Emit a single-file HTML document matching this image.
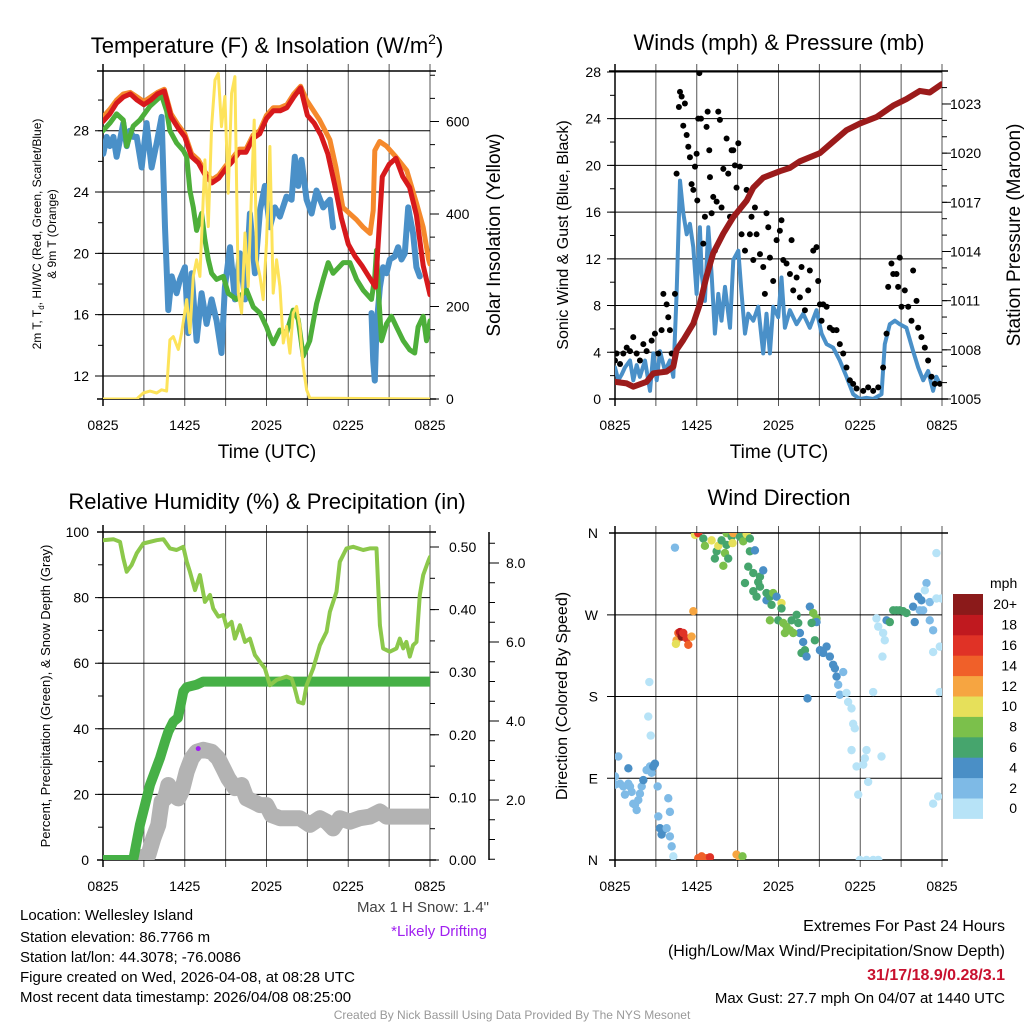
<!DOCTYPE html>
<html><head><meta charset="utf-8"><style>
html,body{margin:0;padding:0;background:#fff;}
svg{display:block;font-family:"Liberation Sans",Arial,sans-serif;}
</style></head><body>
<svg id="s" width="1024" height="1024" viewBox="0 0 1024 1024" xmlns="http://www.w3.org/2000/svg">
<rect x="0" y="0" width="1024" height="1024" fill="#fff"/>
<g id="texts">
<text x="267" y="53" font-size="22" text-anchor="middle">Temperature (F) &amp; Insolation (W/m<tspan font-size="14" dy="-9">2</tspan><tspan dy="9">)</tspan></text>
<text x="779" y="50" font-size="22" text-anchor="middle">Winds (mph) &amp; Pressure (mb)</text>
<text x="267" y="509" font-size="22" text-anchor="middle">Relative Humidity (%) &amp; Precipitation (in)</text>
<text x="779" y="505" font-size="22" text-anchor="middle">Wind Direction</text>
<text transform="translate(41,234) rotate(-90)" font-size="12" text-anchor="middle">2m T, T<tspan font-size="8" dy="3">d</tspan><tspan dy="-3">, HI/WC (Red, Green, Scarlet/Blue)</tspan></text>
<text transform="translate(56,234) rotate(-90)" font-size="12" text-anchor="middle">&amp; 9m T (Orange)</text>
<text transform="translate(500,235) rotate(-90)" font-size="19" text-anchor="middle">Solar Insolation (Yellow)</text>
<text x="267" y="458" font-size="19" text-anchor="middle">Time (UTC)</text>
<text x="779" y="458" font-size="19" text-anchor="middle">Time (UTC)</text>
<text transform="translate(568,235) rotate(-90)" font-size="16" text-anchor="middle">Sonic Wind &amp; Gust (Blue, Black)</text>
<text transform="translate(1020,235) rotate(-90)" font-size="19" text-anchor="middle">Station Pressure (Maroon)</text>
<text transform="translate(50,696) rotate(-90)" font-size="13" text-anchor="middle">Percent, Precipitation (Green), &amp; Snow Depth (Gray)</text>
<text transform="translate(567,696) rotate(-90)" font-size="16" text-anchor="middle">Direction (Colored By Speed)</text>
<text x="489" y="912" font-size="15" fill="#444" text-anchor="end">Max 1 H Snow: 1.4"</text>
<text x="487" y="936" font-size="15" fill="#a020f0" text-anchor="end">*Likely Drifting</text>
<text x="20" y="920" font-size="15">Location: Wellesley Island</text>
<text x="20" y="942" font-size="15">Station elevation: 86.7766 m</text>
<text x="20" y="962" font-size="15">Station lat/lon: 44.3078; -76.0086</text>
<text x="20" y="982" font-size="15">Figure created on Wed, 2026-04-08, at 08:28 UTC</text>
<text x="20" y="1002" font-size="15">Most recent data timestamp: 2026/04/08 08:25:00</text>
<text x="1005" y="931" font-size="16" text-anchor="end">Extremes For Past 24 Hours</text>
<text x="1005" y="956" font-size="16" text-anchor="end">(High/Low/Max Wind/Precipitation/Snow Depth)</text>
<text x="1005" y="980" font-size="16" font-weight="bold" fill="#c8102e" text-anchor="end">31/17/18.9/0.28/3.1</text>
<text x="1005" y="1003" font-size="15" text-anchor="end">Max Gust: 27.7 mph On 04/07 at 1440 UTC</text>
<text x="512" y="1019" font-size="12" fill="#999" text-anchor="middle">Created By Nick Bassill Using Data Provided By The NYS Mesonet</text>
</g>
</svg>
<script>
// ---------- data ----------
const timeLabels = ["0825","1425","2025","0225","0825"];
const tempTicks = [12,16,20,24,28];
const solarTicks = [0,200,400,600];
const windTicks = [0,4,8,12,16,20,24,28];
const presTicks = [1005,1008,1011,1014,1017,1020,1023];
const rhTicks = [0,20,40,60,80,100];
const precipTicks = [0,0.1,0.2,0.3,0.4,0.5];
const snowTicks = [2,4,6,8];
const dirLabels = ["N","E","S","W","N"];
const dirTicks = [0,90,180,270,360];
const speedLabels = ["0","2","4","6","8","10","12","14","16","18","20+"];
const speedColors = ["#b7e3f7","#7ebae6","#4a8fc6","#46a56d","#7bc04b","#e6e05a","#f6a541","#f06029","#e03226","#c0191f","#8b1a1a"];

const redT = [[0,28.6],[0.5,29.1],[1,29.8],[1.5,30.2],[2,30.4],[2.5,30.0],[3,29.7],[3.5,30.0],[4,30.4],[4.5,30.6],[5,28.9],[5.5,28.2],[6,27.6],[6.5,26.3],[7,25.9],[7.5,25.1],[8,24.6],[8.5,24.9],[9,25.5],[9.5,26.0],[10,26.6],[10.5,26.6],[11,27.5],[11.5,27.8],[12,28.8],[12.5,29.3],[13,29.3],[13.5,29.5],[14,30.2],[14.5,30.8],[15,29.0],[15.5,28.5],[16,27.7],[16.5,26.5],[17,24.5],[17.5,22.3],[18,20.6],[18.5,19.8],[19,19.2],[19.5,18.5],[20,17.8],[20.5,25.0],[21,25.8],[21.5,26.2],[22,25.0],[22.5,24.3],[23,22.5],[23.5,19.2],[24,17.3]];
const orangeT = [[0,28.9],[0.5,29.4],[1,30.0],[1.5,30.4],[2,30.5],[2.5,30.2],[3,29.9],[3.5,30.2],[4,30.5],[4.5,30.7],[5,29.1],[5.5,28.4],[6,27.8],[6.5,26.5],[7,26.1],[7.5,25.3],[8,24.8],[8.5,25.1],[9,25.7],[9.5,26.2],[10,26.8],[10.5,26.8],[11,27.7],[11.5,28.0],[12,29.0],[12.5,29.5],[13,29.5],[13.5,29.7],[14,30.4],[14.5,30.9],[14.94,30.0],[15.9,28.7],[16.65,27.4],[17.1,25.6],[17.6,23.0],[18.1,22.6],[18.6,22.2],[19.1,21.7],[19.6,21.3],[19.83,22.8],[19.95,26.7],[20.3,27.3],[20.8,27.0],[21.5,26.3],[22.3,25.4],[23.0,23.3],[23.5,21.7],[23.9,19.6],[24,19.3]];
const greenT = [[0,28.0],[0.51,28.5],[1.0,29.1],[1.49,28.7],[1.74,27.0],[2.22,28.3],[2.71,28.7],[3.45,29.6],[4.3,30.3],[4.67,29.3],[4.91,28.0],[5.4,27.2],[5.89,26.7],[6.14,26.3],[6.38,24.1],[6.63,23.0],[6.87,21.5],[7.24,22.6],[7.48,20.9],[7.73,19.6],[7.97,18.7],[8.34,18.3],[8.83,18.5],[9.19,17.4],[9.8,17.0],[10.54,17.6],[11.03,16.5],[11.52,16.1],[12.0,15.2],[12.25,14.6],[12.49,14.1],[12.98,15.0],[13.47,14.8],[13.96,16.3],[14.33,15.7],[14.69,13.3],[15.18,14.3],[15.67,16.7],[16.16,18.3],[16.53,19.4],[16.89,18.7],[17.63,19.4],[18.12,19.4],[18.61,18.3],[19.1,17.6],[19.71,17.0],[19.95,18.5],[20.07,20.2],[20.2,17.8],[20.44,14.3],[20.81,15.4],[21.17,15.9],[21.54,15.2],[22.03,14.3],[22.52,13.7],[22.88,13.5],[23.13,15.2],[23.5,15.9],[23.74,14.3],[24,15.6]];
const blueTa = [[0.02,26.5],[0.27,27.6],[0.51,27.0],[0.76,27.6],[1.0,26.3],[1.25,27.4],[1.49,28.5],[1.74,27.0],[1.98,28.0],[2.22,27.6],[2.47,27.6],[2.84,25.6],[3.2,28.5],[3.57,25.6],[3.94,27.2],[4.3,28.9],[4.55,21.7],[4.79,16.3],[5.04,18.5],[5.4,17.4],[5.65,18.3],[6.01,19.1],[6.26,14.8],[6.5,18.7],[6.87,14.3],[7.24,17.4],[7.6,15.4],[7.97,17.0],[8.34,15.6],[8.7,13.5],[8.95,17.8],[9.32,20.4],[9.68,17.0],[10.05,20.0],[10.42,17.0],[10.78,22.6],[11.15,18.7],[11.52,22.8],[11.88,24.4],[12.25,21.7],[12.62,23.0],[12.98,22.4],[13.47,23.7],[13.84,23.5],[14.08,26.3],[14.33,24.4],[14.57,26.1],[14.94,23.5],[15.31,22.6],[15.67,24.1],[16.16,23.0],[16.65,23.5],[16.89,21.7]];
const blueTb = [[19.71,16.1],[19.83,13.0],[19.95,11.7],[20.07,15.2],[20.32,17.8],[20.56,19.1],[20.81,18.7],[21.05,19.6],[21.42,19.8],[21.66,20.4],[21.91,19.6],[22.15,20.0],[22.4,23.0],[22.52,22.4],[22.76,21.3],[23.0,19.1],[23.25,18.5]];
const solar = [[0,0],[2.47,0],[2.96,13],[3.45,17],[3.94,13],[4.3,20],[4.67,17],[4.91,128],[5.16,135],[5.53,107],[5.77,143],[6.14,215],[6.38,143],[6.63,265],[6.87,301],[7.11,265],[7.48,517],[7.73,373],[7.97,589],[8.22,690],[8.46,704],[8.7,589],[8.95,654],[9.19,445],[9.44,661],[9.68,697],[9.93,229],[10.17,186],[10.42,359],[10.66,243],[10.9,445],[11.1,603],[11.27,301],[11.52,265],[11.76,215],[12.0,337],[12.25,546],[12.49,229],[12.74,301],[12.98,243],[13.23,121],[13.47,157],[13.72,99],[13.96,186],[14.21,200],[14.45,157],[14.69,71],[14.94,20],[15.18,2],[24,0]];

const pressure = [[0,1006.05],[0.86,1005.95],[1.34,1005.75],[2.32,1006.05],[2.81,1006.57],[3.79,1006.67],[4.28,1006.97],[4.52,1008.0],[5.01,1008.6],[5.75,1009.6],[6.23,1010.8],[6.72,1012.5],[7.21,1013.9],[7.95,1015.1],[8.68,1016.1],[9.66,1017.1],[10.15,1017.9],[10.88,1018.5],[12.1,1018.9],[12.84,1019.1],[13.57,1019.5],[15.04,1020.0],[16.01,1020.7],[16.99,1021.4],[17.97,1021.8],[19.19,1022.2],[20.42,1022.9],[21.39,1023.3],[22.37,1023.8],[23.1,1023.7],[23.96,1024.2]];
const windHours = [0,0.24,0.49,0.73,1.1,1.34,1.59,1.83,2.2,2.57,2.81,3.06,3.3,3.67,4.03,4.28,4.52,4.77,5.01,5.26,5.5,5.75,5.99,6.23,6.36,6.6,6.85,7.09,7.33,7.58,7.82,8.07,8.44,8.68,9.05,9.29,9.54,9.78,10.15,10.51,10.88,11.12,11.37,11.61,11.98,12.22,12.47,12.84,13.33,13.81,14.3,14.79,15.16,15.53,16.01,16.5,16.99,17.48,17.97,18.46,18.95,19.56,19.8,20.17,20.54,20.9,21.39,21.88,22.25,22.62,22.98,23.35,23.59,23.84];
const windSpeed = [2.7,1.6,2.1,2.7,3.3,1.6,2.9,1.9,3.3,0.7,3.9,1.6,4.1,2.4,3.3,1.9,9.0,18.7,15.9,14.1,15.0,13.0,9.0,14.7,10.7,8.4,14.7,10.7,5.6,9.0,6.7,9.6,6.1,11.9,12.7,9.0,5.6,7.3,6.7,7.9,3.9,7.3,3.9,7.9,7.0,10.4,6.1,7.6,6.4,7.3,6.1,7.6,5.6,4.7,4.4,3.3,1.9,0.4,0,0.1,0,0.4,4.7,6.4,6.7,6.4,6.1,4.1,2.7,1.6,2.4,0.7,1.9,1.3];
const gusts = [[0,3.3],[0.12,3.9],[0.37,3.0],[0.61,3.9],[0.86,4.4],[1.1,4.1],[1.34,5.3],[1.59,3.9],[1.83,3.3],[2.08,4.7],[2.32,4.1],[2.69,5.0],[2.93,5.6],[3.18,3.9],[3.42,5.9],[3.55,9.0],[3.79,8.1],[3.91,7.0],[4.03,5.9],[4.16,3.9],[4.4,9.0],[4.52,19.3],[4.69,25.0],[4.77,26.3],[4.89,25.9],[5.01,23.4],[5.13,25.3],[5.26,22.6],[5.38,21.6],[5.5,20.7],[5.62,18.4],[5.75,17.9],[5.87,19.9],[5.99,21.0],[6.04,17.0],[6.11,24.0],[6.19,27.9],[6.31,24.0],[6.48,13.3],[6.6,15.6],[6.72,23.3],[6.8,24.6],[6.92,21.3],[6.97,19.0],[7.09,15.9],[7.21,17.3],[7.33,12.7],[7.46,16.9],[7.58,24.6],[7.7,23.9],[7.82,16.4],[7.95,19.7],[8.19,22.3],[8.31,19.3],[8.44,15.6],[8.56,21.3],[8.68,21.3],[8.8,20.0],[8.92,18.1],[9.05,21.9],[9.17,19.9],[9.29,14.1],[9.54,12.7],[9.66,17.9],[9.9,14.1],[10.02,15.6],[10.15,11.9],[10.27,16.4],[10.39,14.1],[10.64,12.4],[10.88,11.3],[11.0,9.0],[11.12,15.9],[11.25,14.7],[11.37,12.1],[11.61,10.1],[11.86,13.6],[12.1,14.4],[12.22,15.3],[12.35,11.9],[12.59,11.6],[12.84,10.7],[12.96,13.6],[13.08,9.3],[13.33,10.4],[13.57,8.7],[13.69,11.3],[13.94,7.6],[14.18,9.3],[14.3,11.0],[14.55,12.7],[14.79,13.0],[14.91,10.1],[15.04,8.1],[15.16,6.7],[15.28,8.1],[15.53,7.9],[15.77,6.1],[16.01,5.9],[16.26,5.9],[16.5,4.7],[16.75,3.9],[16.99,2.7],[17.24,1.6],[17.48,1.3],[17.73,0.9],[18.22,0.7],[18.58,1.0],[18.95,0.7],[19.32,1.0],[19.68,2.7],[19.93,5.6],[20.05,9.6],[20.29,11.6],[20.42,10.7],[20.66,10.7],[20.78,9.6],[20.9,12.1],[21.03,7.9],[21.27,9.3],[21.52,7.9],[21.76,6.7],[21.88,11.0],[22.13,8.4],[22.25,6.1],[22.49,5.3],[22.74,4.4],[22.98,3.3],[23.23,1.9],[23.47,1.3],[23.84,1.3]];

const rh = [[0,97.5],[0.76,97.8],[1.25,97],[1.49,92],[1.74,87.9],[2.1,89.9],[2.47,93.5],[2.96,96.5],[3.94,97.5],[4.43,97.8],[4.91,95],[5.4,94.5],[5.89,95.5],[6.14,91],[6.38,87.9],[6.75,82.3],[7.11,86.9],[7.48,78.7],[7.85,80.8],[8.09,76.7],[8.46,74.2],[8.83,74.7],[9.07,71.1],[9.44,72.6],[9.68,67.5],[10.05,71.6],[10.42,66.5],[10.78,67.5],[11.15,62.5],[11.52,60.4],[11.88,58.4],[12.25,53.3],[12.74,54.9],[13.47,55.9],[13.84,55.3],[14.08,52.3],[14.33,48.2],[14.69,47.7],[14.94,53.3],[15.43,58.4],[15.92,65.5],[16.41,69.6],[16.65,75.7],[17.14,81.8],[17.38,90.9],[17.87,95],[18.36,95.5],[19.1,94.5],[19.58,95],[20.07,95],[20.32,71.6],[20.56,64.5],[21.05,63.5],[21.54,64.5],[21.78,67.5],[22.03,64.5],[22.27,66.5],[22.52,62],[22.76,65.5],[23.01,66.5],[23.25,80.8],[23.5,86.9],[23.86,91],[24,92.4]];
const precip = [[0,0],[2.22,0],[2.71,0.056],[3.08,0.088],[3.45,0.12],[3.81,0.141],[4.18,0.163],[4.55,0.189],[4.79,0.205],[5.16,0.221],[5.5,0.227],[5.65,0.243],[5.89,0.269],[6.14,0.276],[6.87,0.28],[7.36,0.285],[24,0.285]];
const snow = [[2.71,0.53],[3.33,0.61],[3.69,1.03],[4.06,1.37],[4.3,1.96],[4.55,2.04],[4.79,2.38],[5.16,2.13],[5.53,2.04],[5.77,2.21],[6.14,2.72],[6.5,3.05],[6.87,3.22],[7.36,3.27],[7.97,3.22],[8.46,3.05],[8.83,2.8],[9.19,2.55],[9.68,2.3],[10.17,2.38],[10.54,2.04],[11.03,1.96],[11.52,1.87],[12.0,1.87],[12.37,1.62],[12.98,1.54],[13.72,1.54],[14.45,1.54],[15.18,1.37],[15.92,1.54],[16.41,1.45],[16.89,1.28],[17.38,1.54],[18.12,1.45],[18.85,1.54],[19.58,1.58],[20.32,1.71],[20.81,1.58],[21.54,1.58],[22.52,1.58],[24,1.58]];
const drift = [[6.99,3.3]];

// [hour, direction deg, speed mph]
const windDir = [[0,92,2],[0,83,2],[0.24,114,3],[0.37,84,2],[0.61,81,2],[0.73,72,2],[0.98,84,2],[0.98,101,4],[1.1,81,2],[1.22,75,2],[1.34,62,2],[1.47,61,2],[1.59,55,2],[1.71,66,2],[1.83,73,2],[1.96,81,2],[2.08,88,4],[2.32,99,2],[2.57,103,2],[2.69,96,2],[2.81,103,4],[2.93,106,4],[2.52,196,0],[2.44,158,0],[2.62,137,0],[3.13,81,3],[3.18,48,3],[3.3,35,4],[3.42,28,4],[3.55,33,4],[3.79,35,3],[3.91,68,3],[4.03,53,3],[4.03,26,3],[4.16,15,3],[4.28,4,1],[4.4,344,2],
[4.52,242,12],[4.65,250,15],[4.77,251,18],[4.89,246,20],[5.01,250,17],[5.26,244,16],[5.38,237,15],[5.62,246,13],[4.47,238,10],[5.75,274,12],
[6.11,2,15],[6.36,4,14],[6.72,2,15],[6.97,3,16],[8.92,6,13],[9.17,2,12],[9.36,4,8],
[5.87,358,10],[6.11,360,16],[6.48,354,7],[6.6,346,8],[7.09,352,10],[7.33,332,6],[7.46,340,6],[7.58,346,10],[7.82,352,6],[7.95,324,8],[8.07,338,8],[8.19,347,7],[8.31,332,7],[8.19,360,8],[8.56,356,7],[8.68,360,13],[8.63,349,10],[9.17,356,7],[9.41,351,8],[9.66,359,10],[9.9,354,6],[9.9,340,6],[10.27,341,4],[9.78,323,6],[10.15,316,6],[9.54,305,6],[10.51,306,6],[10.64,312,6],[10.88,319,4],[10.15,296,6],[10.39,290,6],[10.64,301,6],[11.12,286,4],[11.12,294,6],[11.37,290,6],[11.61,294,8],[11.49,281,6],[11.86,290,4],[12.22,283,10],[12.22,277,6],[11.37,264,8],[11.98,264,6],[12.35,261,8],[12.59,257,8],[12.84,253,8],[12.47,250,8],[12.96,264,6],[13.33,270,6],[13.45,261,6],[13.57,250,4],[13.08,250,8],[13.81,240,4],[13.94,231,6],[13.69,228,6],[14.06,224,4],[14.3,279,4],[14.55,272,8],[14.79,266,8],[14.79,262,4],[14.43,261,6],[14.67,242,6],[15.04,231,4],[15.28,228,4],[15.53,235,4],[15.77,224,4],[16.01,215,4],[16.14,211,4],[16.26,202,4],[16.38,193,3],[16.5,182,2],[16.75,207,3],[16.99,184,1],[17.11,174,1],[17.36,167,1],[17.48,150,1],[17.6,145,1],[17.36,121,1],[17.73,103,1],[17.85,72,1],[18.22,105,1],[18.34,112,1],[18.58,86,1],[18.46,121,1],[18.95,185,0],[19.19,266,0],[19.32,257,0],[19.56,114,0],[19.68,250,0],[19.8,242,1],[19.63,224,0],[19.93,264,4],[20.17,262,6],[20.42,275,6],[20.66,275,6],[20.9,275,6],[21.15,274,6],[21.39,272,6],[21.88,279,4],[22.25,290,4],[22.0,262,4],[22.37,275,3],[22.49,286,4],[22.62,275,3],[22.86,305,3],[22.74,297,0],[23.1,284,2],[23.1,264,2],[23.35,253,2],[23.35,229,1],[23.59,288,0],[23.96,288,0],[23.84,235,1],[23.59,338,0],[23.84,185,1],[23.35,62,1],[23.72,70,1],[14.13,178,4],[17.97,0,0],[18.46,0,0],[18.95,0,0],[19.32,0,0]];

// ---------- helpers ----------
const NS = "http://www.w3.org/2000/svg";
const svg = document.getElementById("s");
function mk(tag, attrs, parent) {
  const e = document.createElementNS(NS, tag);
  for (const k in attrs) e.setAttribute(k, attrs[k]);
  (parent || svg).appendChild(e);
  return e;
}
function pathFrom(pts, fx, fy) {
  return pts.map((p, i) => (i ? "L" : "M") + fx(p[0]).toFixed(1) + "," + fy(p[1]).toFixed(1)).join(" ");
}
// panels
const P1 = {x0:103, x1:430, y0:71, y1:399};
const P2 = {x0:615, x1:942, y0:71, y1:399};
const P3 = {x0:103, x1:430, y0:532, y1:860};
const P4 = {x0:615, x1:942, y0:533, y1:860};
const xs1 = h => P1.x0 + h * (P1.x1 - P1.x0) / 24;
const xs2 = h => P2.x0 + h * (P2.x1 - P2.x0) / 24;
const yT = v => 376 - (v - 12) * 15.33;
const yS = v => 399 - v * 0.4625;
const yW = v => 399 - v * 11.68;
const yP = v => 399 - (v - 1005) * 16.39;
const yR = v => 860 - v * 3.28;
const yPr = v => 860 - v * 626;
const ySn = v => 879 - v * 39.5;
const yD = v => 860 - v * 0.908;

function clip(id, P) {
  const c = mk("clipPath", {id: id});
  mk("rect", {x:P.x0, y:P.y0, width:P.x1-P.x0, height:P.y1-P.y0}, c);
}
clip("c1", P1); clip("c2", P2); clip("c3", P3); clip("c4", P4);

function frame(P, name, ys, yfun, fx) {
  const g = mk("g", {});
  
  
  for (let i = 1; i < 8; i++) {
    const x = P.x0 + i * (P.x1 - P.x0) / 8;
    mk("line", {x1:x, x2:x, y1:P.y0 - 7, y2:P.y1 + 7, stroke:"#555", "stroke-width":1}, g);
  }
  mk("line", {x1:P.x0, x2:P.x0, y1:P.y0-7, y2:P.y1+7, stroke:"#000", "stroke-width":1.5}, g);
  mk("line", {x1:P.x1, x2:P.x1, y1:P.y0-7, y2:P.y1+7, stroke:"#555", "stroke-width":1}, g);
  ys.forEach(v => { const y = yfun(v); mk("line", {x1:P.x0 - 8, x2:P.x1, y1:y, y2:y, stroke:"#000", "stroke-width":1}, g); });
  mk("line", {x1:P.x0-6, x2:P.x1+6, y1:P.y0, y2:P.y0, stroke:"#000", "stroke-width":1.5}, g);
  mk("line", {x1:P.x0-6, x2:P.x1+6, y1:P.y1, y2:P.y1, stroke:"#000", "stroke-width":1.5}, g);
  timeLabels.forEach((t, i) => {
    const tx = mk("text", {x:P.x0 + i * (P.x1-P.x0)/4, y:P.y1 + 31, "font-size":14, "text-anchor":"middle"}, g);
    tx.textContent = t;
    
    
  });
  return g;
}
function leftLabels(P, ticks, yfun, fmt, name) {
  ticks.forEach(v => {
    const t = mk("text", {x:P.x0 - 14, y:yfun(v) + 5, "font-size":14, "text-anchor":"end"});
    t.textContent = fmt(v);
    
    
  });
}
function minorTicks(x, from, to, step, yfun, len) {
  for (let v = from; v <= to + 1e-9; v += step) {
    const y = yfun(v);
    mk("line", {x1:x, x2:x + len, y1:y, y2:y, stroke:"#000", "stroke-width":1});
  }
}
function rightLabels(x, ticks, yfun, fmt, name) {
  ticks.forEach(v => {
    const t = mk("text", {x:x, y:yfun(v) + 5, "font-size":14, "text-anchor":"start"});
    t.textContent = fmt(v);
    
    
  });
}
function line(pts, fx, fy, color, w, clipId, name) {
  const p = mk("path", {d:pathFrom(pts, fx, fy), fill:"none", stroke:color, "stroke-width":w, "stroke-linejoin":"round", "stroke-linecap":"round", "clip-path":"url(#" + clipId + ")"});
  
  
  return p;
}

// ---------- panel 1 ----------
frame(P1, "temperature", tempTicks, yT);
leftLabels(P1, tempTicks, yT, v => v, "temperature-tick-label");
minorTicks(P1.x0, 12, 30, 2, yT, -5);
minorTicks(P1.x1, 0, 700, 50, yS, 5);
solarTicks.forEach(v => mk("line", {x1:P1.x1, x2:P1.x1+9, y1:yS(v), y2:yS(v), stroke:"#000"}));
rightLabels(P1.x1 + 16, solarTicks, yS, v => v, "solar-tick-label");
line(orangeT, xs1, yT, "#f5892c", 5, "c1", "orange-9m-temp-line");
line(blueTa, xs1, yT, "#4a90c8", 6, "c1", "blue-windchill-line");
line(blueTb, xs1, yT, "#4a90c8", 6, "c1", "blue-windchill-line-2");
line(greenT, xs1, yT, "#4daf3a", 5, "c1", "green-dewpoint-line");
line(redT, xs1, yT, "#d7191c", 5, "c1", "red-temperature-line");
line(solar, xs1, yS, "#fde35a", 3, "c1", "yellow-insolation-line");

// ---------- panel 2 ----------
frame(P2, "winds", windTicks.slice(1), yW);
leftLabels(P2, windTicks, yW, v => v, "wind-tick-label");
minorTicks(P2.x0, 0, 28, 2, yW, -5);
minorTicks(P2.x1, 1005, 1024, 1, yP, 5);
presTicks.forEach(v => mk("line", {x1:P2.x1, x2:P2.x1+9, y1:yP(v), y2:yP(v), stroke:"#000"}));
rightLabels(P2.x1 + 8, presTicks, yP, v => v, "pressure-tick-label");
line(windHours.map((h, i) => [h, windSpeed[i]]), xs2, yW, "#4a90c8", 4, "c2", "sonic-wind-line");
const gg = mk("g", {"clip-path":"url(#c2)"});


gusts.forEach(p => {
  const c = mk("circle", {cx:xs2(p[0]), cy:yW(p[1]), r:3, fill:"#000"}, gg);
  
  
});
line(pressure, xs2, yP, "#9b1b1b", 6, "c2", "pressure-line");

// ---------- panel 3 ----------
frame(P3, "humidity", rhTicks.slice(1,5), yR);
leftLabels(P3, rhTicks, yR, v => v, "humidity-tick-label");
minorTicks(P3.x0, 0, 100, 10, yR, -5);
minorTicks(P3.x1, 0, 0.5, 0.05, yPr, 5);
precipTicks.forEach(v => mk("line", {x1:P3.x1, x2:P3.x1+9, y1:yPr(v), y2:yPr(v), stroke:"#000"}));
rightLabels(P3.x1 + 19, precipTicks, yPr, v => v.toFixed(2), "precip-tick-label");
const sax = mk("line", {x1:489, x2:489, y1:P3.y0, y2:P3.y1, stroke:"#000", "stroke-width":1.5});


for (let v = 0.5; v <= 8.5; v += 0.5) { const y = ySn(v); if (y >= P3.y0 && y <= P3.y1) mk("line", {x1:489, x2:495, y1:y, y2:y, stroke:"#000"}); }
snowTicks.forEach(v => mk("line", {x1:489, x2:499, y1:ySn(v), y2:ySn(v), stroke:"#000"}));
rightLabels(506, snowTicks, ySn, v => v.toFixed(1), "snow-tick-label");
line(snow, xs1, ySn, "#b3b3b3", 16, "c3", "snow-depth-line");
line(precip, xs1, yPr, "#46b046", 10, "c3", "precipitation-line");
line(rh, xs1, yR, "#8cc84b", 4, "c3", "relative-humidity-line");
drift.forEach(p => {
  const c = mk("circle", {cx:xs1(p[0]), cy:ySn(p[1]), r:2.5, fill:"#a020f0"});
  
  
});

// ---------- panel 4 ----------
frame(P4, "wind-direction", dirTicks.slice(1,4), yD);
dirLabels.forEach((l, i) => {
  const t = mk("text", {x:P4.x0 - 17, y:yD(dirTicks[i]) + 5, "font-size":14, "text-anchor":"end"});
  t.textContent = l;
  
  
});
const dg = mk("g", {"clip-path":"url(#c4)"});


function speedIdx(s) { return s >= 20 ? 10 : Math.floor(s / 2); }
windDir.forEach(p => {
  const c = mk("circle", {cx:xs2(p[0]), cy:yD(p[1]), r:4.2, fill:speedColors[speedIdx(p[2])]}, dg);
  
  
});
// colorbar
const cb = mk("g", {});


const cbTop = 594, cbH = 20.4;
const mt = mk("text", {x:990, y:588, "font-size":14}, cb);
mt.textContent = "mph";


speedLabels.forEach((l, i) => {
  const k = speedLabels.length - 1 - i;
  const y = cbTop + k * cbH;
  const r = mk("rect", {x:953, y:y, width:30, height:cbH + 0.5, fill:speedColors[i]}, cb);
  
  
  const t = mk("text", {x:1017, y:y + cbH/2 + 5, "font-size":14, "text-anchor":"end"}, cb);
  t.textContent = l;
  
  
});
</script>
</body></html>
